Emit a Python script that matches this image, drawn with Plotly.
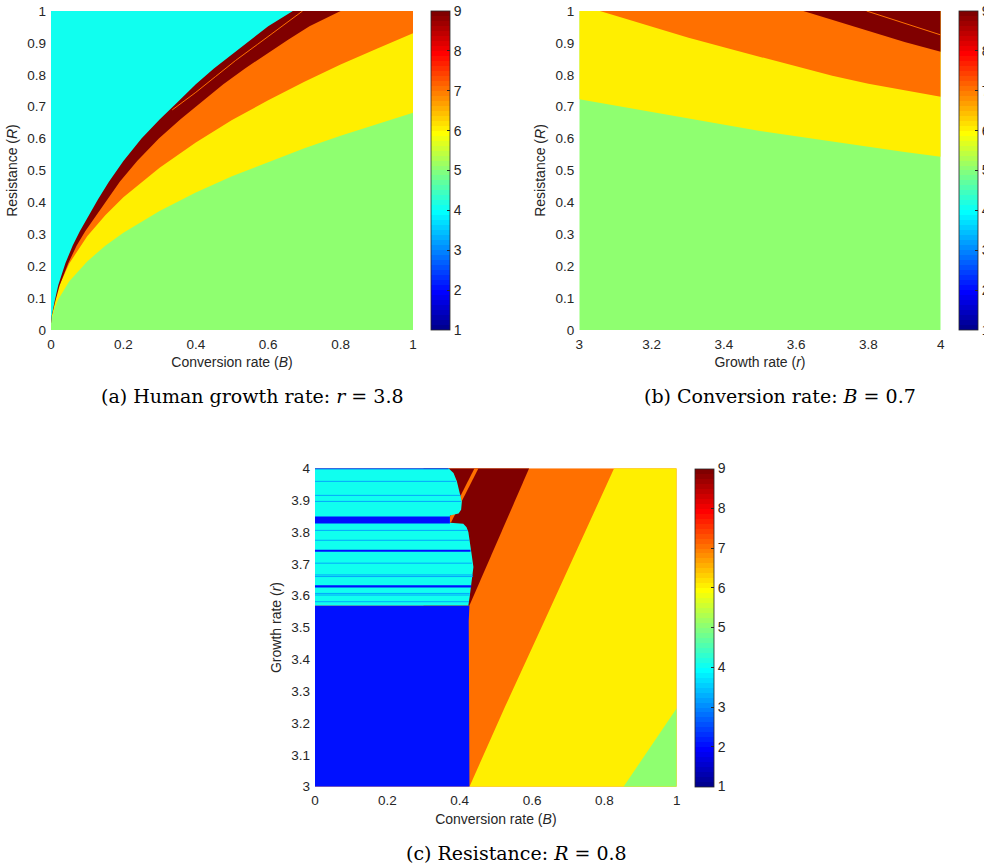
import numpy as np
import plotly.graph_objects as go

# ---------------- region boundaries ----------------
# (a) r = 3.8 : boundaries in the (B, R) plane
A_CYAN_B = [0.0, 0.002, 0.01, 0.02, 0.04, 0.06, 0.08, 0.10, 0.13, 0.16, 0.20, 0.25, 0.30,
            0.35, 0.40, 0.45, 0.50, 0.55, 0.60, 0.668]
A_CYAN_R = [0.02, 0.045, 0.09, 0.14, 0.21, 0.265, 0.31, 0.35, 0.41, 0.465, 0.53, 0.60, 0.66,
            0.715, 0.77, 0.82, 0.865, 0.91, 0.952, 1.0]
A_DRED_B = [0.0, 0.0024, 0.012, 0.024, 0.048, 0.071, 0.095, 0.119, 0.155, 0.19, 0.238, 0.298,
            0.357, 0.417, 0.476, 0.536, 0.595, 0.655, 0.714, 0.80]
A_DRED_R = [0.02, 0.045, 0.09, 0.14, 0.21, 0.265, 0.31, 0.35, 0.41, 0.465, 0.53, 0.60, 0.66,
            0.715, 0.77, 0.82, 0.865, 0.91, 0.952, 1.0]
A_ORNG_B = [0.0, 0.002, 0.01, 0.02, 0.05, 0.10, 0.15, 0.20, 0.30, 0.40, 0.50, 0.60, 0.70, 0.80, 0.90, 1.00]
A_ORNG_R = [0.02, 0.045, 0.093, 0.132, 0.208, 0.294, 0.360, 0.416, 0.509, 0.588, 0.658, 0.720,
            0.778, 0.832, 0.882, 0.930]
A_YELL_B = [0.0, 0.002, 0.01, 0.02, 0.05, 0.10, 0.15, 0.20, 0.30, 0.40, 0.50, 0.60, 0.70, 0.80, 0.90, 1.00]
A_YELL_R = [0.02, 0.035, 0.068, 0.096, 0.152, 0.215, 0.264, 0.305, 0.373, 0.431, 0.482, 0.527,
            0.570, 0.609, 0.646, 0.681]
A_LINE_B = [0.335, 0.40, 0.455, 0.51, 0.57, 0.63, 0.695]
A_LINE_R = [0.690, 0.745, 0.795, 0.845, 0.895, 0.945, 1.000]

# (b) B = 0.7 : boundaries in the (r, R) plane
B_YELL_r = [3.0, 3.1, 3.2, 3.3, 3.4, 3.5, 3.6, 3.7, 3.8, 3.9, 4.0]
B_YELL_R = [0.723, 0.703, 0.684, 0.665, 0.644, 0.624, 0.607, 0.590, 0.573, 0.558, 0.543]
B_ORNG_r = [3.057, 3.1, 3.2, 3.3, 3.4, 3.5, 3.6, 3.7, 3.8, 3.9, 4.0]
B_ORNG_R = [1.000, 0.985, 0.950, 0.917, 0.886, 0.857, 0.827, 0.797, 0.772, 0.751, 0.731]
B_DRED_r = [3.62, 3.70, 3.80, 3.90, 4.00]
B_DRED_R = [1.000, 0.972, 0.936, 0.903, 0.872]
B_LINE_r = [3.795, 4.00]
B_LINE_R = [1.000, 0.925]

# (c) R = 0.8 : boundaries in the (B, r) plane
C_BLUE_B = [0.427, 0.426, 0.424, 0.425, 0.427]
C_BLUE_r = [3.000, 3.300, 3.450, 3.520, 3.569]
C_YELL_B = [0.427, 0.525, 0.626, 0.726, 0.827]
C_YELL_r = [3.00, 3.25, 3.50, 3.75, 4.00]
C_GREEN_B = [0.853, 1.000]
C_GREEN_r = [3.000, 3.246]
C_DRED_B = [0.427, 0.592]
C_DRED_r = [3.569, 4.000]
C_CYAN_EDGE_B = [0.424, 0.428, 0.436, 0.438, 0.433, 0.430, 0.427, 0.424, 0.419, 0.410,
                 0.373, 0.373, 0.397, 0.404, 0.406, 0.402, 0.397, 0.392, 0.383, 0.369]
C_CYAN_EDGE_r = [3.569, 3.600, 3.660, 3.690, 3.730, 3.750, 3.770, 3.800, 3.815, 3.826,
                 3.829, 3.852, 3.858, 3.870, 3.895, 3.915, 3.930, 3.960, 3.985, 4.000]
C_STREAK_B = [0.365, 0.376, 0.452, 0.441]
C_STREAK_r = [3.830, 3.830, 4.000, 4.000]
C_BANDS_LO = [3.827, 3.738, 3.626, 3.997]
C_BANDS_HI = [3.849, 3.744, 3.633, 4.000]
C_BANDS_END = [0.373, 0.430, 0.432, 0.369]
C_LINES_r = [3.959, 3.915, 3.896, 3.805, 3.774, 3.702, 3.665, 3.660, 3.607, 3.602, 3.581]
C_LINES_END = [0.390, 0.404, 0.404, 0.422, 0.426, 0.434, 0.437, 0.437, 0.428, 0.428, 0.426]

LEVELS = dict(blue=2, midblue=3, cyan=4, green=5, yellow=6, orange=7, dred=9)
ZMIN, ZMAX = 1, 9
TICKS = list(range(1, 10))


def matlab_jet(m=64):
    n = int(np.ceil(m / 4))
    u = np.concatenate([np.arange(1, n + 1) / n, np.ones(n - 1), np.arange(n, 0, -1) / n])
    g = int(np.ceil(n / 2)) - (1 if m % 4 == 1 else 0) + np.arange(1, len(u) + 1)
    out = np.zeros((m, 3))
    for ch, idx in enumerate([g + n, g, g - n]):
        for k, val in zip(idx, u):
            if 1 <= k <= m:
                out[k - 1, ch] = val
    return out


JET = matlab_jet(64)
M = len(JET)


def rgb(row):
    return "rgb(%d,%d,%d)" % tuple(int(round(255 * v)) for v in row)


JET_SCALE = []
for i, row in enumerate(JET):
    JET_SCALE.append([i / M, rgb(row)])
    JET_SCALE.append([(i + 1) / M, rgb(row)])


def level_color(v):
    k = min(int((v - ZMIN) / (ZMAX - ZMIN) * M), M - 1)
    return rgb(JET[k])


fig = go.Figure()


def poly(xs, ys, level, ax):
    xa, ya = ax
    fig.add_trace(go.Scatter(x=list(xs) + [xs[0]], y=list(ys) + [ys[0]], mode="lines",
                             fill="toself", fillcolor=level_color(LEVELS[level]),
                             line=dict(width=0, color=level_color(LEVELS[level])),
                             hoverinfo="skip", showlegend=False, xaxis=xa, yaxis=ya))


def line(xs, ys, level, width, ax):
    xa, ya = ax
    fig.add_trace(go.Scatter(x=xs, y=ys, mode="lines",
                             line=dict(width=width, color=level_color(LEVELS[level])),
                             hoverinfo="skip", showlegend=False, xaxis=xa, yaxis=ya))


# ---- panel (a)
AX_A = ("x", "y")
poly([0, 1, 1, 0], [0, 0, 1, 1], "green", AX_A)
poly(A_YELL_B + [1, 0], A_YELL_R + [1, 1], "yellow", AX_A)
poly(A_ORNG_B + [1, 0], A_ORNG_R + [1, 1], "orange", AX_A)
poly(A_DRED_B + [0], A_DRED_R + [1], "dred", AX_A)
line(A_LINE_B, A_LINE_R, "orange", 1, AX_A)
poly(A_CYAN_B + [0], A_CYAN_R + [1], "cyan", AX_A)

# ---- panel (b)
AX_B = ("x2", "y2")
poly([3, 4, 4, 3], [0, 0, 1, 1], "green", AX_B)
poly(B_YELL_r + [4, 3], B_YELL_R + [1, 1], "yellow", AX_B)
poly(B_ORNG_r + [4], B_ORNG_R + [1], "orange", AX_B)
poly(B_DRED_r + [4], B_DRED_R + [1], "dred", AX_B)
line(B_LINE_r, B_LINE_R, "orange", 1, AX_B)

# ---- panel (c)
AX_C = ("x3", "y3")
poly([0, 1, 1, 0], [3, 3, 4, 4], "orange", AX_C)
poly(C_YELL_B + [1, 1], C_YELL_r + [4, 3], "yellow", AX_C)
poly(C_GREEN_B + [1], C_GREEN_r + [3], "green", AX_C)
poly([0] + C_BLUE_B + [0], [3] + C_BLUE_r + [C_BLUE_r[-1]], "blue", AX_C)
poly(C_DRED_B + [0.30, 0.30], C_DRED_r + [4, C_DRED_r[0]], "dred", AX_C)
poly(C_STREAK_B, C_STREAK_r, "orange", AX_C)
poly([0] + C_CYAN_EDGE_B + [0], [C_CYAN_EDGE_r[0]] + C_CYAN_EDGE_r + [4], "cyan", AX_C)
for rv, end in zip(C_LINES_r, C_LINES_END):
    line([0, end], [rv, rv], "midblue", 0.8, AX_C)
for lo, hi, end in zip(C_BANDS_LO, C_BANDS_HI, C_BANDS_END):
    poly([0, end, end, 0], [lo, lo, hi, hi], "blue", AX_C)

# ---- colour bars (one per panel)
W, H = 984, 866
TXT = "#262626"
SANS = "Liberation Sans, Arial, sans-serif"
SERIF = "DejaVu Serif, Liberation Serif, serif"


def px_x(p):
    return p / W


def px_y(p):
    return 1 - p / H


def cbar(ax, cx, top, bottom, xr, yr):
    xa, ya = ax
    fig.add_trace(go.Scatter(
        x=[xr, xr], y=[yr, yr], mode="markers", xaxis=xa, yaxis=ya, hoverinfo="skip", showlegend=False,
        marker=dict(color=[ZMIN, ZMAX], colorscale=JET_SCALE, cmin=ZMIN, cmax=ZMAX, opacity=0, size=1,
                    colorbar=dict(x=px_x(cx), xanchor="left", xref="paper",
                                  y=(px_y(top) + px_y(bottom)) / 2, yanchor="middle",
                                  len=(bottom - top) / H, lenmode="fraction",
                                  thickness=19, thicknessmode="pixels",
                                  tickvals=TICKS, ticks="inside", ticklen=3, tickcolor=TXT,
                                  outlinewidth=0.8, outlinecolor=TXT,
                                  tickfont=dict(family=SANS, size=14, color=TXT),
                                  ypad=0, xpad=0)),
    ))


cbar(AX_A, 431, 11, 330, 0.5, 0.5)
cbar(AX_B, 959, 11, 330, 3.5, 0.5)
cbar(AX_C, 695, 468.3, 786.7, 0.5, 3.5)

# ---- axes
def axis(dom, rng, dtick, title, standoff):
    return dict(domain=dom, range=rng, dtick=dtick, showgrid=False, zeroline=False, showline=False,
                ticks="", tickfont=dict(family=SANS, size=13.5, color=TXT),
                title=dict(text=title, font=dict(family=SANS, size=14, color=TXT), standoff=standoff),
                fixedrange=True)


fig.update_layout(
    width=W, height=H, margin=dict(l=0, r=0, t=0, b=0, autoexpand=False),
    paper_bgcolor="white", plot_bgcolor="white",
    xaxis=dict(**axis([px_x(51), px_x(413)], [0, 1], 0.2, "Conversion rate (<i>B</i>)", 6),
               anchor="y", ticklabelstandoff=4),
    yaxis=dict(**axis([px_y(330), px_y(11)], [0, 1], 0.1, "Resistance (<i>R</i>)", 6),
               anchor="x", ticklabelstandoff=4),
    xaxis2=dict(**axis([px_x(579.3), px_x(940.7)], [3, 4], 0.2, "Growth rate (<i>r</i>)", 6),
                anchor="y2", ticklabelstandoff=4),
    yaxis2=dict(**axis([px_y(330), px_y(11)], [0, 1], 0.1, "Resistance (<i>R</i>)", 6),
                anchor="x2", ticklabelstandoff=4),
    xaxis3=dict(**axis([px_x(315), px_x(676.7)], [0, 1], 0.2, "Conversion rate (<i>B</i>)", 6),
                anchor="y3", ticklabelstandoff=4),
    yaxis3=dict(**axis([px_y(786.7), px_y(468.3)], [3, 4], 0.1, "Growth rate (<i>r</i>)", 6),
                anchor="x3", ticklabelstandoff=4),
)

CAPTIONS = [
    ("(a) Human growth rate: <i>r</i> = 3.8", 252, 396),
    ("(b) Conversion rate: <i>B</i> = 0.7", 780, 396),
    ("(c) Resistance: <i>R</i> = 0.8", 516, 853),
]
for text, cx, cy in CAPTIONS:
    fig.add_annotation(text=text, x=px_x(cx), y=px_y(cy), xref="paper", yref="paper",
                       xanchor="center", yanchor="middle", showarrow=False,
                       font=dict(family=SERIF, size=19, color="black"))

fig.write_html("out.html")
